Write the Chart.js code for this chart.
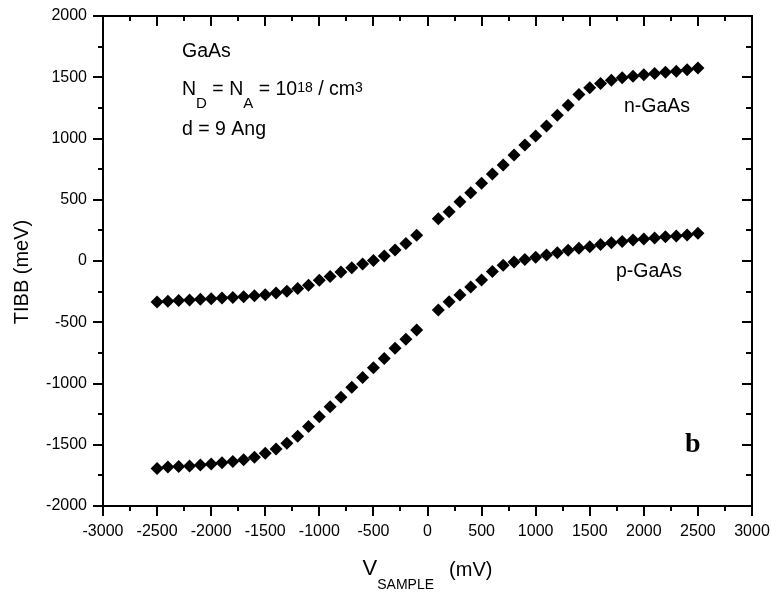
<!DOCTYPE html>
<html>
<head>
<meta charset="utf-8">
<script src="https://cdn.jsdelivr.net/npm/chart.js@4.4.1/dist/chart.umd.min.js"></script>
<style>
  html, body { margin: 0; padding: 0; background: #fff; }
  #wrap { width: 771px; height: 593px; }
</style>
</head>
<body>
<div id="wrap"><canvas id="c" width="771" height="593"></canvas></div>
<script>
// ---- data ----
const vSample = [
  -2500, -2400, -2300, -2200, -2100, -2000, -1900, -1800, -1700, -1600,
  -1500, -1400, -1300, -1200, -1100, -1000, -900, -800, -700, -600,
  -500, -400, -300, -200, -100,
  100, 200, 300, 400, 500, 600, 700, 800, 900, 1000,
  1100, 1200, 1300, 1400, 1500, 1600, 1700, 1800, 1900, 2000,
  2100, 2200, 2300, 2400, 2500
];
const nGaAs = [
  -335, -328, -322, -318, -313, -308, -303, -297, -291, -284,
  -275, -262, -246, -225, -198, -158, -126, -89, -56, -25,
  5, 40, 89, 143, 211,
  345, 403, 484, 558, 634, 710, 784, 865, 947, 1020,
  1102, 1190, 1272, 1360, 1415, 1450, 1475, 1495, 1508, 1520,
  1530, 1540, 1550, 1562, 1575
];
const pGaAs = [
  -1693, -1682, -1678, -1673, -1665, -1657, -1646, -1636, -1622, -1602,
  -1570, -1535, -1488, -1430, -1352, -1271, -1190, -1113, -1031, -950,
  -871, -795, -713, -639, -563,
  -400, -332, -278, -212, -155, -85, -35, -8, 12, 30,
  49, 68, 88, 104, 117, 135, 149, 160, 171, 180,
  187, 198, 204, 212, 226
];
const xTickLabels = [-3000, -2500, -2000, -1500, -1000, -500, 0, 500, 1000, 1500, 2000, 2500, 3000];
const yTickLabels = [-2000, -1500, -1000, -500, 0, 500, 1000, 1500, 2000];
const X_MIN = -3000, X_MAX = 3000, X_MINOR = 250;
const Y_MIN = -2000, Y_MAX = 2000, Y_MINOR = 250;

const SANS = '"Liberation Sans", Arial, Helvetica, sans-serif';

function toPoints(xs, ys) { return xs.map((x, i) => ({ x: x, y: ys[i] })); }

function drawRich(ctx, x, y, parts) {
  for (const p of parts) {
    ctx.font = p.size + 'px ' + SANS;
    ctx.fillText(p.t, x, y + (p.dy || 0));
    x += ctx.measureText(p.t).width;
  }
}

const framePlugin = {
  id: 'frameAndText',
  afterDraw(chart) {
    const ctx = chart.ctx;
    const a = chart.chartArea;
    const xs = chart.scales.x, ys = chart.scales.y;
    ctx.save();
    ctx.strokeStyle = '#000';
    ctx.fillStyle = '#000';
    ctx.lineWidth = 2;
    ctx.strokeRect(a.left, a.top, a.right - a.left, a.bottom - a.top);
    ctx.beginPath();
    for (let v = X_MIN; v <= X_MAX; v += X_MINOR) {
      const px = Math.round(xs.getPixelForValue(v));
      const major = v % 500 === 0;
      ctx.moveTo(px, a.bottom); ctx.lineTo(px, a.bottom + (major ? 10 : 5));
      ctx.moveTo(px, a.top); ctx.lineTo(px, a.top + (major ? 10 : 5));
    }
    for (let v = Y_MIN; v <= Y_MAX; v += Y_MINOR) {
      const py = Math.round(ys.getPixelForValue(v));
      const major = v % 500 === 0;
      ctx.moveTo(a.left, py); ctx.lineTo(a.left - (major ? 10 : 5), py);
      ctx.moveTo(a.right, py); ctx.lineTo(a.right - (major ? 10 : 6), py);
    }
    ctx.stroke();

    // annotations
    ctx.textAlign = 'left';
    ctx.textBaseline = 'alphabetic';
    drawRich(ctx, 182, 57, [{ t: 'GaAs', size: 19.5 }]);
    drawRich(ctx, 182, 95, [
      { t: 'N', size: 19.5 },
      { t: 'D', size: 15, dy: 13 },
      { t: ' = N', size: 19.5 },
      { t: 'A', size: 15, dy: 13 },
      { t: ' = 10', size: 19.5 },
      { t: '18', size: 14, dy: -3 },
      { t: ' / cm', size: 19.5 },
      { t: '3', size: 14, dy: -3 }
    ]);
    drawRich(ctx, 182, 135, [{ t: 'd = 9 Ang', size: 19.5 }]);
    drawRich(ctx, 624, 112, [{ t: 'n-GaAs', size: 19.5 }]);
    drawRich(ctx, 616, 277, [{ t: 'p-GaAs', size: 19.5 }]);

    ctx.font = 'bold 28px "Liberation Serif", "Times New Roman", serif';
    ctx.fillText('b', 685, 452);

    // x-axis title: V_SAMPLE (mV)
    ctx.font = '22px ' + SANS;
    const wV = ctx.measureText('V').width;
    ctx.font = '14px ' + SANS;
    const wS = ctx.measureText('SAMPLE').width;
    ctx.font = '20px ' + SANS;
    const wM = ctx.measureText('(mV)').width;
    const gap = 15;
    const total = wV + wS + gap + wM;
    let x0 = (a.left + a.right) / 2 - total / 2;
    ctx.font = '22px ' + SANS;
    ctx.fillText('V', x0, 575);
    ctx.font = '14px ' + SANS;
    ctx.fillText('SAMPLE', x0 + wV, 589);
    ctx.font = '20px ' + SANS;
    ctx.fillText('(mV)', x0 + wV + wS + gap, 576);

    // y-axis title
    ctx.save();
    ctx.translate(28, 272);
    ctx.rotate(-Math.PI / 2);
    ctx.textAlign = 'center';
    ctx.font = '20px ' + SANS;
    ctx.fillText('TIBB (meV)', 0, 0);
    ctx.restore();

    ctx.restore();
  }
};

new Chart(document.getElementById('c'), {
  type: 'scatter',
  data: {
    datasets: [
      {
        label: 'n-GaAs',
        data: toPoints(vSample, nGaAs),
        pointStyle: 'rectRot',
        pointRadius: 6.5,
        backgroundColor: '#000',
        borderColor: '#000',
        borderWidth: 0,
        showLine: false
      },
      {
        label: 'p-GaAs',
        data: toPoints(vSample, pGaAs),
        pointStyle: 'rectRot',
        pointRadius: 6.5,
        backgroundColor: '#000',
        borderColor: '#000',
        borderWidth: 0,
        showLine: false
      }
    ]
  },
  options: {
    responsive: false,
    animation: false,
    devicePixelRatio: 1,
    layout: { padding: { top: 16, right: 19, left: 0, bottom: 0 } },
    plugins: { legend: { display: false }, tooltip: { enabled: false }, title: { display: false } },
    scales: {
      x: {
        type: 'linear',
        min: X_MIN, max: X_MAX,
        afterBuildTicks(scale) { scale.ticks = xTickLabels.map(v => ({ value: v })); },
        afterFit(scale) { scale.height = 87; scale.paddingLeft = 0; scale.paddingRight = 0; },
        ticks: { color: '#000', font: { family: SANS, size: 16 }, padding: 16, maxRotation: 0, autoSkip: false,
                 callback: v => String(v) },
        grid: { display: false, drawTicks: false },
        border: { display: false }
      },
      y: {
        type: 'linear',
        min: Y_MIN, max: Y_MAX,
        afterBuildTicks(scale) { scale.ticks = yTickLabels.map(v => ({ value: v })); },
        afterFit(scale) { scale.width = 103; scale.paddingTop = 0; scale.paddingBottom = 0; },
        ticks: { color: '#000', font: { family: SANS, size: 16 }, padding: 16, autoSkip: false,
                 callback: v => String(v) },
        grid: { display: false, drawTicks: false },
        border: { display: false }
      }
    }
  },
  plugins: [framePlugin]
});
</script>
</body>
</html>
